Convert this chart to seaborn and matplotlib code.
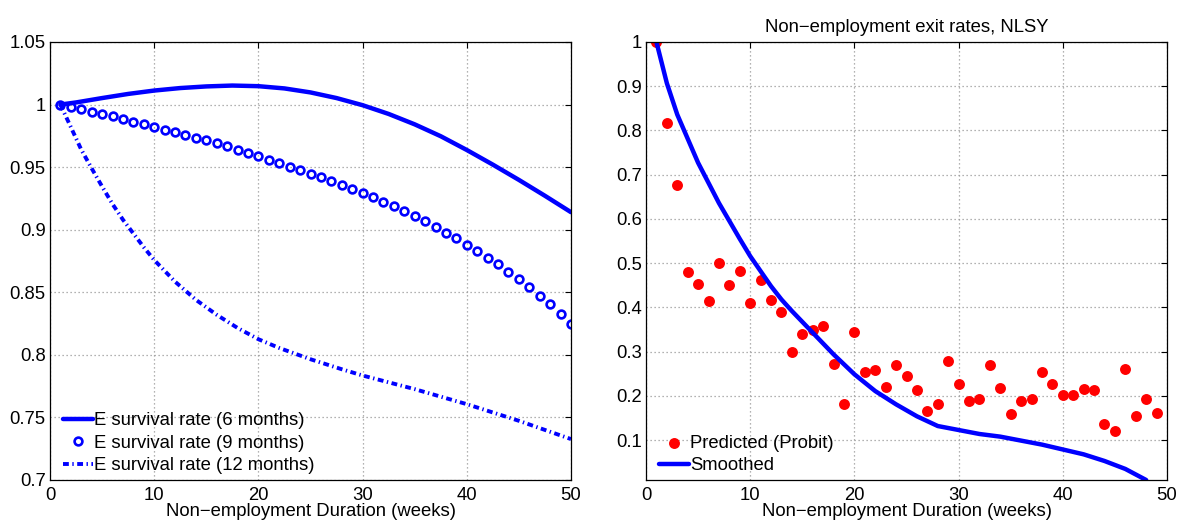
import matplotlib
matplotlib.use('Agg')
import matplotlib.pyplot as plt
import seaborn as sns
from matplotlib.ticker import FuncFormatter

# left panel: E survival rates
weeks_6m = [1, 2.5, 5, 7.5, 10, 12.5, 15, 17.5, 20, 22.5, 25, 27.5, 30, 32.5, 35, 37.5, 40,
            42.5, 45, 47.5, 50]
surv_6m = [1.0, 1.0017, 1.0052, 1.0085, 1.0112, 1.0132, 1.0145, 1.0152, 1.0147, 1.0129,
           1.0097, 1.0052, 0.9995, 0.9925, 0.9842, 0.9747, 0.9637, 0.9520, 0.9398, 0.9271,
           0.9140]

weeks_9m = list(range(1, 51))
surv_9m = [1.0, 0.9981, 0.9965, 0.9944, 0.9925, 0.9907, 0.9888, 0.9864, 0.9843, 0.9822,
           0.9800, 0.9779, 0.9758, 0.9734, 0.9713, 0.9689, 0.9665, 0.9638, 0.9612, 0.9588,
           0.9561, 0.9532, 0.9505, 0.9479, 0.9449, 0.9420, 0.9391, 0.9356, 0.9324, 0.9295,
           0.9258, 0.9223, 0.9186, 0.9149, 0.9106, 0.9066, 0.9021, 0.8976, 0.8931, 0.8880,
           0.8830, 0.8776, 0.8723, 0.8665, 0.8603, 0.8540, 0.8473, 0.8404, 0.8329, 0.8250]

weeks_12m = [1, 2, 3, 4, 5, 6, 7, 8, 9, 10, 12, 14, 16, 18, 20, 22, 25, 28, 30, 35, 40, 45, 50]
surv_12m = [1.0, 0.9820, 0.9640, 0.9490, 0.9345, 0.9205, 0.9080, 0.8970, 0.8860, 0.8758,
            0.8585, 0.8440, 0.8320, 0.8215, 0.8125, 0.8055, 0.7965, 0.7885, 0.7835, 0.7726,
            0.7606, 0.7473, 0.7327]

# right panel: exit rates
weeks_pred = list(range(1, 50))
exit_pred = [1.0, 0.817, 0.676, 0.480, 0.454, 0.414, 0.501, 0.450, 0.482, 0.410,
             0.463, 0.416, 0.389, 0.299, 0.340, 0.350, 0.359, 0.273, 0.181, 0.344,
             0.254, 0.258, 0.221, 0.270, 0.245, 0.213, 0.167, 0.182, 0.279, 0.227,
             0.188, 0.193, 0.271, 0.218, 0.159, 0.188, 0.194, 0.254, 0.227, 0.203,
             0.202, 0.215, 0.213, 0.136, 0.120, 0.261, 0.154, 0.194, 0.162]

weeks_smooth = [1, 2, 3, 5, 7, 9, 10, 12, 13, 14, 16, 18, 20, 22, 24, 26, 28, 30, 32, 34,
                36, 38, 40, 42, 44, 46, 48]
exit_smooth = [1.0, 0.907, 0.836, 0.727, 0.636, 0.555, 0.516, 0.448, 0.418, 0.392, 0.343,
               0.294, 0.249, 0.211, 0.181, 0.154, 0.132, 0.123, 0.114, 0.108, 0.099, 0.090,
               0.079, 0.068, 0.053, 0.035, 0.010]

sns.set_style('white')
plt.rcParams['font.family'] = ['Liberation Sans', 'DejaVu Sans']
plt.rcParams['text.color'] = 'black'
plt.rcParams['axes.labelcolor'] = 'black'
fs = 13.3
plt.rcParams['font.size'] = fs

fig = plt.figure(figsize=(11.77, 5.23), dpi=100)
W, H = 1177, 523
ax1 = fig.add_axes([50 / W, 1 - 480 / H, (571 - 50) / W, (480 - 42) / H])
ax2 = fig.add_axes([646 / W, 1 - 480 / H, (1167 - 646) / W, (480 - 42) / H])

blue = '#0000ff'
red = '#ff0000'

sns.lineplot(x=weeks_6m, y=surv_6m, ax=ax1, color=blue, linewidth=3.2,
             label='E survival rate (6 months)')
sns.lineplot(x=weeks_9m, y=surv_9m, ax=ax1, color=blue, linestyle='none', marker='o',
             markersize=5.6, markerfacecolor='none', markeredgecolor=blue, markeredgewidth=1.9,
             label='E survival rate (9 months)')
sns.lineplot(x=weeks_12m, y=surv_12m, ax=ax1, color=blue, linewidth=2.8,
             linestyle=(0, (1.5, 0.9, 0.35, 0.9)),
             label='E survival rate (12 months)')

ax1.set_xlim(0, 50)
ax1.set_ylim(0.7, 1.05)
ax1.set_yticks([0.7, 0.75, 0.8, 0.85, 0.9, 0.95, 1.0, 1.05])

sns.scatterplot(x=weeks_pred, y=exit_pred, ax=ax2, color=red, s=62, linewidth=0,
                label='Predicted (Probit)')
sns.lineplot(x=weeks_smooth, y=exit_smooth, ax=ax2, color=blue, linewidth=3.2,
             label='Smoothed')
ax2.set_xlim(0, 50)
ax2.set_ylim(0.01, 1.0)
ax2.set_yticks([0.1, 0.2, 0.3, 0.4, 0.5, 0.6, 0.7, 0.8, 0.9, 1.0])
ax2.set_title('Non\u2212employment exit rates, NLSY', fontsize=fs, pad=7, color='black')

fmt = FuncFormatter(lambda v, p: '%g' % round(v, 3))
for ax in (ax1, ax2):
    ax.set_xticks([0, 10, 20, 30, 40, 50])
    ax.yaxis.set_major_formatter(fmt)
    ax.grid(True, linestyle=(0, (1, 2.2)), color='#999999', linewidth=0.9)
    ax.tick_params(direction='in', length=4, width=0.8, labelsize=fs, colors='black',
                   top=True, right=True)
    ax.tick_params(axis='y', pad=3)
    ax.tick_params(axis='x', pad=5)
    for sp in ax.spines.values():
        sp.set_color('black')
        sp.set_linewidth(0.9)
    ax.set_xlabel('Non\u2212employment Duration (weeks)', fontsize=fs, labelpad=-1)
    ax.set_ylabel('')
    leg = ax.legend(loc='lower left', frameon=False, fontsize=fs, handlelength=1.6,
                    handletextpad=0.08, labelspacing=0.3, borderaxespad=0.3, borderpad=0.3,
                    bbox_to_anchor=(0.004, -0.012))
    for t in leg.get_texts():
        t.set_color('black')

fig.savefig('out.png', dpi=100)
